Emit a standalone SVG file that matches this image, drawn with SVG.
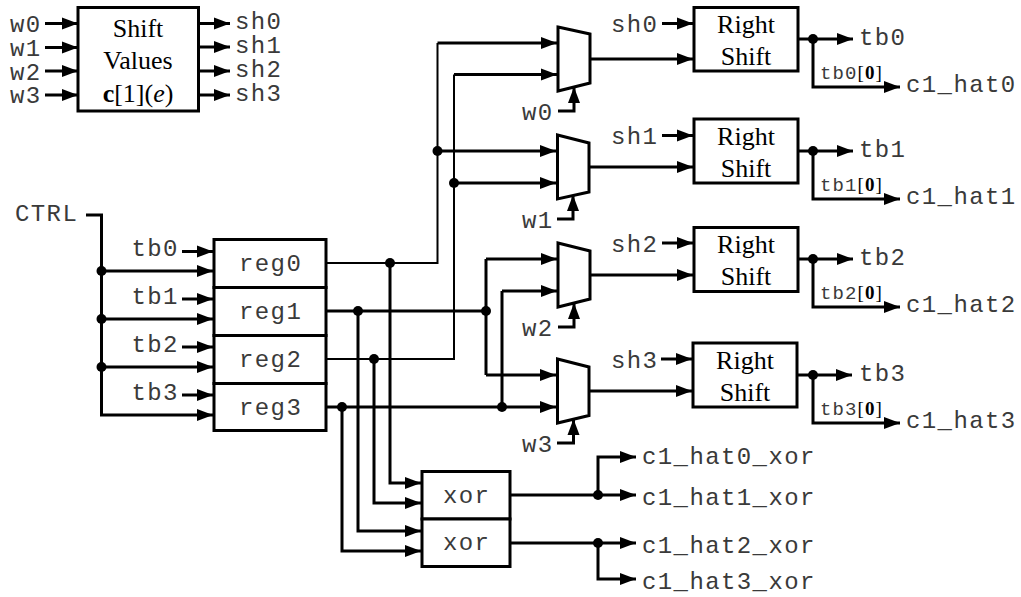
<svg xmlns="http://www.w3.org/2000/svg" width="1021" height="597" viewBox="0 0 1021 597">
<style>
.b{fill:#fff;stroke:#000;stroke-width:3;stroke-linejoin:miter}
.w{fill:none;stroke:#000;stroke-width:3}
.t{stroke-width:2}
.a{marker-end:url(#arr)}
.d{fill:#000;stroke:none}
.m{font-family:"Liberation Mono",monospace;font-size:24px;letter-spacing:1.4px;fill:#3a3a3a}
.s{font-family:"Liberation Mono",monospace;font-size:19px;letter-spacing:1.1px;fill:#3a3a3a}
.r{font-family:"Liberation Serif",serif;font-size:26px;fill:#000;text-anchor:middle}
.k{font-family:"Liberation Serif",serif;font-size:19px;fill:#000}
</style>
<defs>
<marker id="arr" markerUnits="userSpaceOnUse" markerWidth="17" markerHeight="13" refX="16" refY="6.5" orient="auto"><path d="M0 0.5L16 6.5L0 12.5Z" fill="#000"/></marker>
</defs>
<g id="connectors">
<path class="w a" d="M45 23.5H78"/><path class="w a" d="M45 47.5H78"/><path class="w a" d="M45 71H78"/><path class="w a" d="M45 95H78"/>
<path class="w a" d="M199 23.5H230"/><path class="w a" d="M199 47H230"/><path class="w a" d="M199 71H230"/><path class="w a" d="M199 95H230"/>
<path class="w" d="M86 215H101.5V271"/><path class="w" d="M101.5 271V367"/>
<path class="w a" d="M101.5 271H213"/><path class="w a" d="M101.5 319H213"/><path class="w a" d="M101.5 367H213"/><path class="w a" d="M101.5 367V415H213"/>
<path class="w a" d="M182 251.5H213"/><path class="w a" d="M182 299H213"/><path class="w a" d="M182 347H213"/><path class="w a" d="M182 395H213"/>
<path class="w t" d="M326 263H437.5V43"/><path class="w a" d="M437.5 43H557"/><path class="w a" d="M437.5 151H556"/>
<path class="w t" d="M326 359H454V74.5"/><path class="w a" d="M454 74.5H557"/><path class="w a" d="M454 183H556"/>
<path class="w" d="M326 311H486"/><path class="w a" d="M486 259H557"/><path class="w" d="M486 259V375"/><path class="w a" d="M486 375H556"/>
<path class="w" d="M326 407H502"/><path class="w a" d="M502 407H556"/><path class="w" d="M502 407V291"/><path class="w a" d="M502 291H557"/>
<path class="w a" d="M590 59H693"/><path class="w a" d="M589 167H693"/><path class="w a" d="M590 275H693"/><path class="w a" d="M589 391H692"/>
<path class="w a" d="M558 111H574V87"/><path class="w a" d="M557 219H573V195"/><path class="w a" d="M558 327H574V303"/><path class="w a" d="M557 443H573.5V419"/>
<path class="w a" d="M662 23.5H693"/><path class="w a" d="M662 135.5H693"/><path class="w a" d="M662 243H693"/><path class="w a" d="M661 359H692"/>
<path class="w a" d="M798 39H853"/><path class="w a" d="M813 39V87H900"/>
<path class="w a" d="M798 151H853"/><path class="w a" d="M813 151V199H900"/>
<path class="w a" d="M798 259H853"/><path class="w a" d="M813 259V307H900"/>
<path class="w a" d="M797 375H852"/><path class="w a" d="M813 375V423H900"/>
<path class="w a" d="M390 263V483H421"/><path class="w a" d="M374 359V503H421"/><path class="w a" d="M358 311V531H421"/><path class="w a" d="M342 407V551H421"/>
<path class="w a" d="M510 495H636"/><path class="w a" d="M598 495V457H636"/>
<path class="w a" d="M510 543H636"/><path class="w a" d="M598 543V579H636"/>
<g class="d">
<circle cx="101.5" cy="271" r="5"/><circle cx="101.5" cy="319" r="5"/><circle cx="101.5" cy="367" r="5"/>
<circle cx="390" cy="263" r="5"/><circle cx="358" cy="311" r="5"/><circle cx="374" cy="359" r="5"/><circle cx="342" cy="407" r="5"/>
<circle cx="437.5" cy="151" r="5"/><circle cx="454" cy="183" r="5"/><circle cx="486" cy="311" r="5"/><circle cx="502" cy="407" r="5"/>
<circle cx="813" cy="39" r="5"/><circle cx="813" cy="151" r="5"/><circle cx="813" cy="259" r="5"/><circle cx="813" cy="375" r="5"/>
<circle cx="598" cy="495" r="5"/><circle cx="598" cy="543" r="5"/>
</g>
</g>
<g id="shift-values"><rect class="b" x="78" y="7.5" width="120.5" height="103.5"/>
<text class="r" x="138" y="37">Shift</text><text class="r" x="138" y="69">Values</text>
<text class="r" x="138" y="102"><tspan font-weight="bold">c</tspan>[1](<tspan font-style="italic">e</tspan>)</text></g>
<g id="reg0"><rect class="b" x="214" y="239.5" width="112" height="48"/><text class="m" x="239" y="271">reg0</text></g>
<g id="reg1"><rect class="b" x="214" y="287.5" width="112" height="48"/><text class="m" x="239" y="319">reg1</text></g>
<g id="reg2"><rect class="b" x="214" y="335.5" width="112" height="48"/><text class="m" x="239" y="367">reg2</text></g>
<g id="reg3"><rect class="b" x="214" y="383.5" width="112" height="47"/><text class="m" x="239" y="415">reg3</text></g>
<g id="mux0"><path class="b" d="M558 27L590 34V83L558 91Z"/></g>
<g id="mux1"><path class="b" d="M557.5 135L589 143V192L557.5 199Z"/></g>
<g id="mux2"><path class="b" d="M558 243L590 251V299L558 307Z"/></g>
<g id="mux3"><path class="b" d="M557.5 359L589 367V415.5L557.5 423Z"/></g>
<g id="rs0"><rect class="b" x="694" y="7.5" width="104" height="63.5"/><text class="r" x="746" y="33">Right</text><text class="r" x="746" y="65">Shift</text></g>
<g id="rs1"><rect class="b" x="694" y="119" width="104" height="64"/><text class="r" x="746" y="145">Right</text><text class="r" x="746" y="177">Shift</text></g>
<g id="rs2"><rect class="b" x="694" y="227.5" width="104" height="64"/><text class="r" x="746" y="253">Right</text><text class="r" x="746" y="285">Shift</text></g>
<g id="rs3"><rect class="b" x="693" y="343" width="104" height="64"/><text class="r" x="745" y="369">Right</text><text class="r" x="745" y="401">Shift</text></g>
<g id="xor0"><rect class="b" x="422" y="471.5" width="88" height="47.5"/><text class="m" x="443" y="503">xor</text></g>
<g id="xor1"><rect class="b" x="422" y="519" width="88" height="47.5"/><text class="m" x="443" y="550">xor</text></g>
<g id="labels">
<text class="m" x="10" y="32">w0</text><text class="m" x="10" y="56">w1</text><text class="m" x="10" y="79.5">w2</text><text class="m" x="10" y="103">w3</text>
<text class="m" x="235" y="29">sh0</text><text class="m" x="235" y="53">sh1</text><text class="m" x="235" y="77">sh2</text><text class="m" x="235" y="101">sh3</text>
<text class="m" x="15" y="221">CTRL</text>
<text class="m" x="131.5" y="256">tb0</text><text class="m" x="131.5" y="304">tb1</text><text class="m" x="131.5" y="352">tb2</text><text class="m" x="131.5" y="400">tb3</text>
<text class="m" x="522" y="120">w0</text><text class="m" x="522" y="228">w1</text><text class="m" x="522" y="336">w2</text><text class="m" x="522" y="452">w3</text>
<text class="m" x="611" y="32">sh0</text><text class="m" x="611" y="144">sh1</text><text class="m" x="611" y="252">sh2</text><text class="m" x="611" y="368">sh3</text>
<text class="m" x="859" y="45">tb0</text><text class="m" x="859" y="157">tb1</text><text class="m" x="859" y="265">tb2</text><text class="m" x="859" y="381">tb3</text>
<text class="m" x="906" y="92">c1_hat0</text><text class="m" x="906" y="204">c1_hat1</text><text class="m" x="906" y="312">c1_hat2</text><text class="m" x="906" y="428">c1_hat3</text>
<text class="s" x="820" y="79">tb0<tspan class="k">[<tspan font-weight="bold">0</tspan>]</tspan></text>
<text class="s" x="820" y="191">tb1<tspan class="k">[<tspan font-weight="bold">0</tspan>]</tspan></text>
<text class="s" x="820" y="299">tb2<tspan class="k">[<tspan font-weight="bold">0</tspan>]</tspan></text>
<text class="s" x="820" y="415">tb3<tspan class="k">[<tspan font-weight="bold">0</tspan>]</tspan></text>
<text class="m" x="642" y="464">c1_hat0_xor</text><text class="m" x="642" y="505">c1_hat1_xor</text><text class="m" x="642" y="553">c1_hat2_xor</text><text class="m" x="642" y="589">c1_hat3_xor</text>
</g>
</svg>
